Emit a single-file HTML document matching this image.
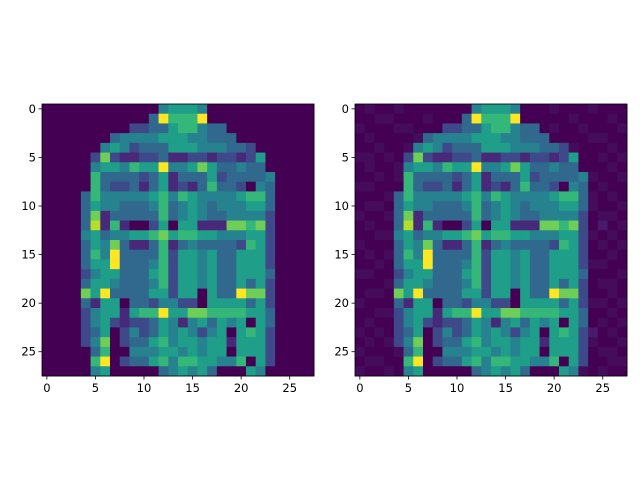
<!DOCTYPE html>
<html><head><meta charset="utf-8"><style>
body{margin:0;background:#fff}
svg{display:block}
text{font-family:"DejaVu Sans","Liberation Sans",sans-serif;font-size:11.5px;fill:#000}
</style></head><body>
<svg id="fig" width="640" height="480" viewBox="0 0 640 480"></svg>
<script>
// pixel intensity levels 0-9 per row (28 x 28), original image
const imageRows = [
"0000000000004555400000000000",
"0000000000039666900000000000",
"0000000002233566433000000000",
"0000000344445554433300000000",
"0000004542333555444332000000",
"0000027211223112212212500000",
"0000045546559445753343300000",
"0000063333235133352333340000",
"0000063223135121363320430000",
"0000364444456465444456630000",
"0000354433346345434445530000",
"0000371333336345433444420000",
"0000381610025055111776720000",
"0000453445567566554445520000",
"0000354731136134333326520000",
"0000364933336255453355520000",
"0000355933346255453355520000",
"0000245533356255453355530000",
"0000355433346255453353520000",
"0000759333355255053397720000",
"0000315503324422055553520000",
"0000245515669557766665530000",
"0000245212235414535450530000",
"0000235024235454245056520000",
"0000247023356455455155520000",
"0000036004445545455055520000",
"0000069023356466554460520000",
"0000045000003454530005400000"
];
// background noise present in the second (noisy) image, levels 0-2
const noiseRows = [
"0100100000000000000010001000",
"0011000100000000000000100010",
"1000110000000000000010010001",
"0100001000000000001000001100",
"0010010000000000000010100010",
"1101000000000000000000000101",
"0100100000000000000000000010",
"0010100000000000000000001001",
"1100000000000000000000010100",
"0001000000000000000000001010",
"0110000000000000000000001001",
"1001000000000000000000000110",
"0100000000000000000000000201",
"0011000000000000000000001010",
"1000000000000000000000000101",
"0101000000000000000000000010",
"0010000000000000000000001100",
"1100000000000000000000000001",
"0001000000000000000000000110",
"0110000000000000000000000010",
"1000000000000000000000001101",
"0011000000000000000000000010",
"0100000000000000000000000101",
"1010000000000000000000002010",
"0101000000000000000000001001",
"1000100000000000000000000110",
"0110000000000000000000000011",
"1001010000000000000000010100"
];
const tickValues = [0,5,10,15,20,25];
const tickLabels = ["0","5","10","15","20","25"];

const viridis=["#440154","#482878","#3e4989","#31688e","#26828e","#1f9e89","#35b779","#6ece58","#b5de2b","#fde725"];
const noisePal=["#440154","#460c5c","#471a6a"];
const NS="http://www.w3.org/2000/svg";
const svg=document.getElementById('fig');
function mk(tag,attrs,parent){const e=document.createElementNS(NS,tag);for(const k in attrs)e.setAttribute(k,attrs[k]);(parent||svg).appendChild(e);return e;}

function drawPanel(x0,y0,size,getColor,name){
  const n=imageRows.length, c=size/n;
  const g=mk('g',{});
  
  
  const sx=v=>x0+(v+0.5)*c, sy=v=>y0+(v+0.5)*c;
  for(let r=0;r<n;r++)for(let col=0;col<n;col++){
    const rect=mk('rect',{x:(x0+col*c).toFixed(2),y:(y0+r*c).toFixed(2),width:(c+0.4).toFixed(2),height:(c+0.4).toFixed(2),fill:getColor(r,col)},g);
    
    
  }
  const frame=mk('rect',{x:x0,y:y0,width:size,height:size,fill:'none',stroke:'#000','stroke-width':0.8},g);
  
  
  tickValues.forEach((t,i)=>{
    const x=sx(t), y=sy(t);
    mk('line',{x1:x,y1:y0+size,x2:x,y2:y0+size+3.5,stroke:'#000','stroke-width':0.8},g);
    const tx=mk('text',{x:x,y:y0+size+16,'text-anchor':'middle'},g);
    tx.textContent=tickLabels[i];
    
    
    mk('line',{x1:x0,y1:y,x2:x0-3.5,y2:y,stroke:'#000','stroke-width':0.8},g);
    const ty=mk('text',{x:x0-6,y:y+4,'text-anchor':'end'},g);
    ty.textContent=tickLabels[i];
    
    
  });
}
drawPanel(42,104,272,(r,c)=>viridis[+imageRows[r][c]],'original-image-panel');
drawPanel(355,104,272,(r,c)=>{const v=+imageRows[r][c];return v>0?viridis[v]:noisePal[+noiseRows[r][c]];},'noisy-image-panel');
</script>
</body></html>
